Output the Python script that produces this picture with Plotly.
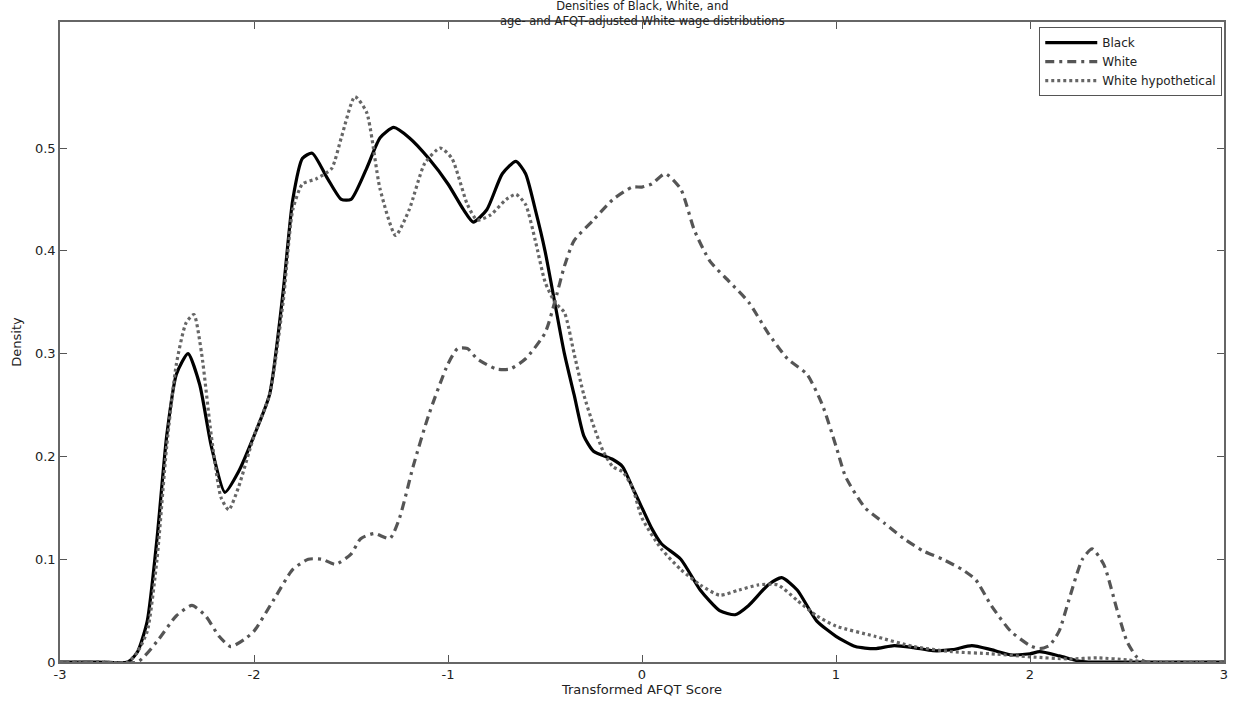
import plotly.graph_objects as go

# Black density
black_x = [-3.0, -2.8, -2.65, -2.6, -2.55, -2.5, -2.45, -2.4, -2.34, -2.28, -2.22, -2.15, -2.08, -2.0, -1.92,
           -1.85, -1.8, -1.75, -1.7, -1.62, -1.55, -1.5, -1.42, -1.35, -1.28, -1.2, -1.1, -1.0, -0.92, -0.87,
           -0.8, -0.72, -0.65, -0.6, -0.55, -0.5, -0.45, -0.4, -0.35, -0.3, -0.25, -0.15, -0.1, -0.05, 0.0,
           0.05, 0.1, 0.2, 0.3, 0.4, 0.48, 0.55, 0.65, 0.72, 0.8, 0.9, 1.0, 1.1, 1.2, 1.3, 1.4, 1.5, 1.6,
           1.7, 1.8, 1.9, 2.0, 2.05, 2.15, 2.25, 2.3, 2.6, 3.0]
black_y = [0.0, 0.0, 0.0, 0.01, 0.04, 0.12, 0.22, 0.28, 0.30, 0.27, 0.21, 0.165, 0.185, 0.22, 0.26,
           0.36, 0.45, 0.49, 0.495, 0.47, 0.45, 0.45, 0.48, 0.51, 0.52, 0.51, 0.49, 0.465, 0.44, 0.428,
           0.44, 0.475, 0.487, 0.475, 0.44, 0.40, 0.35, 0.30, 0.26, 0.22, 0.205, 0.197, 0.19, 0.17, 0.15,
           0.13, 0.115, 0.10, 0.07, 0.05, 0.046, 0.055, 0.075, 0.082, 0.07, 0.04, 0.025, 0.015, 0.013, 0.016, 0.014, 0.011, 0.012,
           0.016, 0.012, 0.007, 0.008, 0.01, 0.006, 0.001, 0.0, 0.0, 0.0]

# White density
white_x = [-3.0, -2.8, -2.6, -2.5, -2.4, -2.32, -2.25, -2.18, -2.12, -2.05, -2.0, -1.9, -1.8, -1.72, -1.65,
           -1.58, -1.5, -1.45, -1.38, -1.3, -1.25, -1.18, -1.1, -1.0, -0.95, -0.9, -0.85, -0.75, -0.68,
           -0.6, -0.5, -0.45, -0.4, -0.35, -0.25, -0.15, -0.05, 0.0, 0.05, 0.12, 0.2, 0.27, 0.35, 0.45,
           0.55, 0.65, 0.75, 0.85, 0.93, 1.0, 1.05, 1.15, 1.25, 1.35, 1.45, 1.55, 1.65, 1.72, 1.8, 1.9,
           2.0, 2.05, 2.1, 2.15, 2.2, 2.27, 2.32, 2.38, 2.45, 2.5, 2.55, 2.6, 3.0]
white_y = [0.0, 0.0, 0.0, 0.02, 0.045, 0.055, 0.045, 0.025, 0.015, 0.022, 0.03, 0.06, 0.09, 0.10, 0.10,
           0.095, 0.105, 0.12, 0.125, 0.12, 0.14, 0.19, 0.24, 0.29, 0.305, 0.305, 0.295, 0.285, 0.285,
           0.295, 0.32, 0.35, 0.385, 0.41, 0.43, 0.45, 0.462, 0.462, 0.465, 0.475, 0.46, 0.42, 0.39, 0.37,
           0.35, 0.32, 0.295, 0.28, 0.25, 0.21, 0.18, 0.15, 0.135, 0.12, 0.108, 0.10, 0.09, 0.08, 0.055, 0.03,
           0.016, 0.013, 0.016, 0.03, 0.06, 0.10, 0.11, 0.095, 0.05, 0.02, 0.005, 0.0, 0.0]

# White hypothetical density
hyp_x = [-3.0, -2.8, -2.65, -2.6, -2.55, -2.5, -2.45, -2.4, -2.35, -2.31, -2.27, -2.22, -2.17, -2.13, -2.08,
         -2.0, -1.92, -1.85, -1.8, -1.75, -1.68, -1.6, -1.55, -1.48, -1.42, -1.35, -1.27, -1.2, -1.12,
         -1.04, -0.98, -0.9, -0.85, -0.78, -0.7, -0.65, -0.6, -0.55, -0.5, -0.45, -0.4, -0.35, -0.3,
         -0.25, -0.2, -0.15, -0.1, -0.05, 0.0, 0.1, 0.2, 0.3, 0.4, 0.5, 0.6, 0.7, 0.8, 0.9, 1.0, 1.2,
         1.4, 1.6, 1.8, 2.0, 2.2, 2.35, 2.5, 2.6, 3.0]
hyp_y = [0.0, 0.0, 0.0, 0.01, 0.03, 0.10, 0.21, 0.29, 0.33, 0.338, 0.30, 0.22, 0.16, 0.148, 0.17,
         0.22, 0.26, 0.35, 0.44, 0.465, 0.47, 0.48, 0.51, 0.55, 0.535, 0.46, 0.415, 0.44, 0.485,
         0.50, 0.49, 0.445, 0.43, 0.435, 0.45, 0.455, 0.445, 0.41, 0.37, 0.35, 0.34, 0.30, 0.26,
         0.23, 0.205, 0.19, 0.185, 0.17, 0.14, 0.11, 0.09, 0.075, 0.065, 0.07, 0.075, 0.075, 0.06, 0.045, 0.035, 0.025,
         0.015, 0.01, 0.008, 0.005, 0.003, 0.004, 0.002, 0.0, 0.0]

x_ticks = [-3, -2, -1, 0, 1, 2, 3]
y_ticks = [0, 0.1, 0.2, 0.3, 0.4, 0.5]
title_text = "Densities of Black, White, and<br>age- and AFQT-adjusted White wage distributions"

FONT = "DejaVu Sans, Liberation Sans, Arial"
TXT = "#222222"

fig = go.Figure()
fig.add_trace(go.Scatter(x=black_x, y=black_y, mode="lines", name="Black",
                         line=dict(color="#000000", width=3.2, shape="spline", smoothing=0.6)))
fig.add_trace(go.Scatter(x=white_x, y=white_y, mode="lines", name="White",
                         line=dict(color="#555555", width=3.2, dash="9px,5px,3px,5px",
                                   shape="spline", smoothing=0.6)))
fig.add_trace(go.Scatter(x=hyp_x, y=hyp_y, mode="lines", name="White hypothetical",
                         line=dict(color="#666666", width=3.2, dash="3px,3px",
                                   shape="spline", smoothing=0.6)))

axis_common = dict(showgrid=False, zeroline=False, showline=True, linecolor="#666666", linewidth=1.5,
                   mirror="ticks", ticks="inside", ticklen=7, tickcolor="#555555", automargin=False,
                   tickfont=dict(family=FONT, size=13, color=TXT))

fig.update_layout(
    width=1236, height=706,
    paper_bgcolor="white", plot_bgcolor="white",
    margin=dict(l=60, r=12, t=22, b=44),
    xaxis=dict(range=[-3, 3], tickvals=x_ticks, ticktext=[str(v) for v in x_ticks],
               title=dict(text="Transformed AFQT Score", standoff=2,
                          font=dict(family=FONT, size=13, color=TXT)),
               **axis_common),
    yaxis=dict(range=[0, 0.6226], tickvals=y_ticks, ticktext=["0", "0.1", "0.2", "0.3", "0.4", "0.5"],
               title=dict(text="Density", standoff=10,
                          font=dict(family=FONT, size=13, color=TXT)),
               **axis_common),
    legend=dict(x=0.9985, y=0.992, xanchor="right", yanchor="top", bgcolor="white",
                bordercolor="#555555", borderwidth=1, tracegroupgap=0,
                font=dict(family=FONT, size=12, color=TXT),
                itemwidth=52),
    showlegend=True,
)

fig.add_annotation(text=title_text, xref="paper", yref="paper", x=0.5, y=1.0140,
                   xanchor="center", yanchor="middle", showarrow=False,
                   font=dict(family=FONT, size=11.5, color=TXT))

fig.write_html("out.html", config={"displayModeBar": False},
               post_script="document.body.style.margin='0';document.body.style.overflow='hidden';")
